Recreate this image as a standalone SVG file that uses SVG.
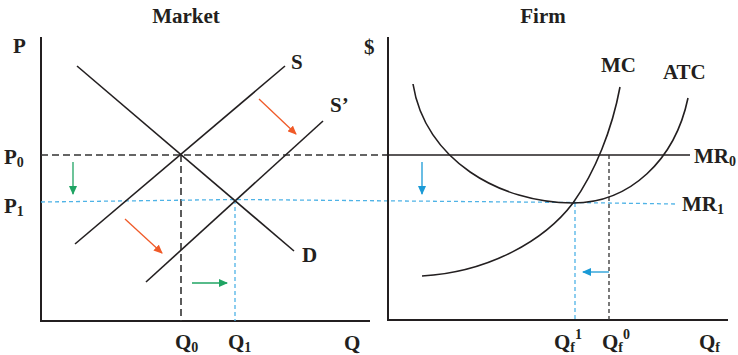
<svg xmlns="http://www.w3.org/2000/svg" width="738" height="355" viewBox="0 0 738 355">
<style>
text{font-family:"Liberation Serif","Times New Roman",serif;font-weight:bold;fill:#231f20}
.t{font-size:21px}
.s{font-size:14px}
.ax{stroke:#231f20;stroke-width:2;fill:none}
.ln{stroke:#231f20;stroke-width:1.6;fill:none}
.dk{stroke:#333;stroke-width:1.6;fill:none;stroke-dasharray:7 4}
.bl{stroke:#4fb3e6;stroke-width:1.3;fill:none;stroke-dasharray:4 3}
.red{stroke:#f05a28;stroke-width:1.3;fill:none;marker-end:url(#ar)}
.grn{stroke:#1fa463;stroke-width:1.3;fill:none;marker-end:url(#ag)}
.blu{stroke:#1a9ad6;stroke-width:1.3;fill:none;marker-end:url(#ab)}
</style>
<defs>
<marker id="ar" markerWidth="9" markerHeight="8" refX="8" refY="4" orient="auto" markerUnits="userSpaceOnUse"><path d="M0,0L9,4L0,8Z" fill="#f05a28"/></marker>
<marker id="ag" markerWidth="9" markerHeight="8" refX="8" refY="4" orient="auto" markerUnits="userSpaceOnUse"><path d="M0,0L9,4L0,8Z" fill="#1fa463"/></marker>
<marker id="ab" markerWidth="9" markerHeight="8" refX="8" refY="4" orient="auto" markerUnits="userSpaceOnUse"><path d="M0,0L9,4L0,8Z" fill="#1a9ad6"/></marker>
</defs>
<rect width="738" height="355" fill="#fff"/>
<g id="market">
<text class="t" x="186" y="23" text-anchor="middle">Market</text>
<text class="t" x="13" y="53">P</text>
<path class="ax" d="M41,37V321H370"/>
<g id="guides-market">
<path class="dk" d="M41,155H383"/>
<path class="dk" d="M181,155V321"/>
<path class="bl" d="M41,202L235,199.5L575,202.5L676,204"/>
<path class="bl" d="M235,200V321"/>
</g>
<g id="curve-D"><path class="ln" d="M77,66L294,251"/><text class="t" x="302" y="262">D</text></g>
<g id="curve-S"><path class="ln" d="M75,244L285,66"/><text class="t" x="291" y="69">S</text></g>
<g id="curve-S2"><path class="ln" d="M146,282L323,121"/><text class="t" x="330" y="112">S’</text></g>
<text class="t" x="4" y="164">P<tspan class="s" dy="3">0</tspan></text>
<text class="t" x="4" y="213">P<tspan class="s" dy="3">1</tspan></text>
<text class="t" x="175" y="349">Q<tspan class="s" dy="3">0</tspan></text>
<text class="t" x="228" y="349">Q<tspan class="s" dy="3">1</tspan></text>
<text class="t" x="344" y="350">Q</text>
</g>
<g id="market-arrows">
<path class="red" d="M259,99L296,134"/>
<path class="red" d="M125,219L162,253"/>
<path class="grn" d="M73,162V194"/>
<path class="grn" d="M192,283H227"/>
</g>
<g id="firm">
<text class="t" x="543" y="23" text-anchor="middle">Firm</text>
<text class="t" x="364" y="54">$</text>
<path class="ax" d="M388,37V320H728"/>
<g id="guides-firm">
<path class="ln" d="M383,155H690"/>
<path class="bl" d="M575,203V320"/>
<path class="dk" d="M609,155V320" style="stroke-width:1.3;stroke-dasharray:4 3"/>
</g>
<g id="curve-MC"><path class="ln" d="M422,276C490,272 545,240 573,203C595,172 612,130 620,87"/><text class="t" x="601" y="72">MC</text></g>
<g id="curve-ATC"><path class="ln" d="M413,84C425,160 500,203 573,203C630,203 675,160 688,98"/><text class="t" x="663" y="79">ATC</text></g>
<text class="t" x="694" y="163">MR<tspan class="s" dy="3">0</tspan></text>
<text class="t" x="682" y="211">MR<tspan class="s" dy="3">1</tspan></text>
<text class="t" x="554" y="349">Q<tspan class="s" dy="3">f</tspan><tspan class="s" dy="-13">1</tspan></text>
<text class="t" x="602" y="349">Q<tspan class="s" dy="3">f</tspan><tspan class="s" dy="-13">0</tspan></text>
<text class="t" x="699" y="349">Q<tspan class="s" dy="3">f</tspan></text>
</g>
<g id="firm-arrows">
<path class="blu" d="M422,162V194"/>
<path class="blu" d="M609,272H583"/>
</g>
</svg>
